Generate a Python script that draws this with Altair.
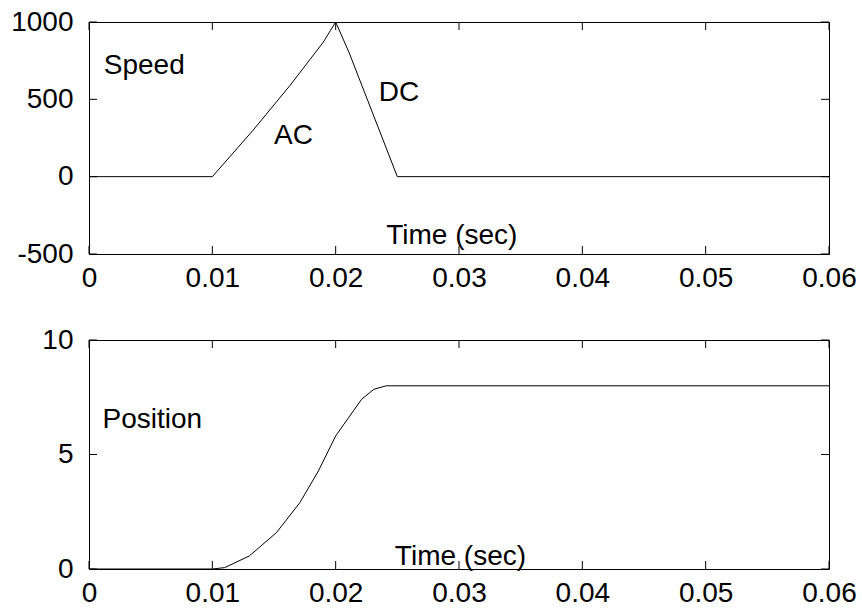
import altair as alt
import pandas as pd

# ---- data ----
speed_t = [0.0, 0.01, 0.0133, 0.0163, 0.019, 0.02, 0.0211, 0.025, 0.06]
speed_v = [0, 0, 300, 590, 870, 1000, 800, 0, 0]

pos_t = [0.0, 0.01, 0.011, 0.013, 0.0152, 0.0171, 0.0186, 0.02, 0.0221, 0.0231, 0.0241, 0.06]
pos_v = [0, 0, 0.06, 0.57, 1.59, 2.9, 4.28, 5.81, 7.41, 7.85, 8.0, 8.0]

x_ticks = [0, 0.01, 0.02, 0.03, 0.04, 0.05, 0.06]
speed_ticks = [-500, 0, 500, 1000]
pos_ticks = [0, 5, 10]

speed_labels = ["Speed", "AC", "DC", "Time (sec)"]
speed_label_t = [0.0012, 0.0150, 0.0235, 0.0241]
speed_label_v = [666, 209, 489, -435]

pos_labels = ["Position", "Time (sec)"]
pos_label_t = [0.0011, 0.0248]
pos_label_v = [6.17, 0.175]

W = 740
H_TOP = 232
H_BOT = 229
TICK = 8
FONT = "Liberation Sans"
FS = 28

xscale = alt.Scale(domain=[0, 0.06], nice=False, zero=False)
xaxis = alt.Axis(values=x_ticks, labelExpr="datum.value + ''", title=None, grid=False,
                 ticks=False, domain=False, labelFlush=False,
                 labelOverlap=False, labelPadding=10)


def panel(t, v, ymin, ymax, yticks, labels, lt, lv, h):
    yscale = alt.Scale(domain=[ymin, ymax], nice=False, zero=False)
    yaxis = alt.Axis(values=yticks, labelExpr="datum.value + ''", title=None,
                     grid=False, ticks=False, domain=False, labelFlush=False,
                     labelOverlap=False, labelPadding=16)
    X = alt.X("t:Q", scale=xscale, axis=xaxis)
    Y = alt.Y("v:Q", scale=yscale, axis=yaxis)
    line_df = pd.DataFrame({"t": t, "v": v})
    lab_df = pd.DataFrame({"t": lt, "v": lv, "label": labels})
    xt_df = pd.DataFrame({"t": x_ticks})
    yt_df = pd.DataFrame({"v": yticks})

    line = alt.Chart(line_df).mark_line(color="black", strokeWidth=1).encode(x=X, y=Y)
    text = alt.Chart(lab_df).mark_text(
        align="left", baseline="alphabetic", font=FONT, fontSize=FS, color="black"
    ).encode(x=X, y=Y, text="label:N")
    xt_top = alt.Chart(xt_df).mark_rule(color="black", strokeWidth=1).encode(
        x=X, y=alt.value(0), y2=alt.value(TICK)
    )
    xt_bot = alt.Chart(xt_df).mark_rule(color="black", strokeWidth=1).encode(
        x=X, y=alt.value(h), y2=alt.value(h - TICK)
    )
    yt_left = alt.Chart(yt_df).mark_rule(color="black", strokeWidth=1).encode(
        y=Y, x=alt.value(0), x2=alt.value(TICK)
    )
    yt_right = alt.Chart(yt_df).mark_rule(color="black", strokeWidth=1).encode(
        y=Y, x=alt.value(W), x2=alt.value(W - TICK)
    )
    return alt.layer(line, text, xt_top, xt_bot, yt_left, yt_right).properties(
        width=W, height=h
    )


top = panel(speed_t, speed_v, -500, 1000, speed_ticks, speed_labels,
            speed_label_t, speed_label_v, H_TOP)
bot = panel(pos_t, pos_v, 0, 10, pos_ticks, pos_labels, pos_label_t, pos_label_v, H_BOT)

chart = alt.vconcat(top, bot, spacing=86, bounds="flush").properties(
    padding={"left": 10, "top": 7, "right": 5, "bottom": 5},
    autosize=alt.AutoSizeParams(type="pad"),
    background="white",
).configure_view(
    stroke="black", strokeWidth=1
).configure_axis(
    labelFont=FONT, labelFontSize=FS, labelColor="black"
)

chart.save("out.html", embed_options={"renderer": "svg", "actions": False})
